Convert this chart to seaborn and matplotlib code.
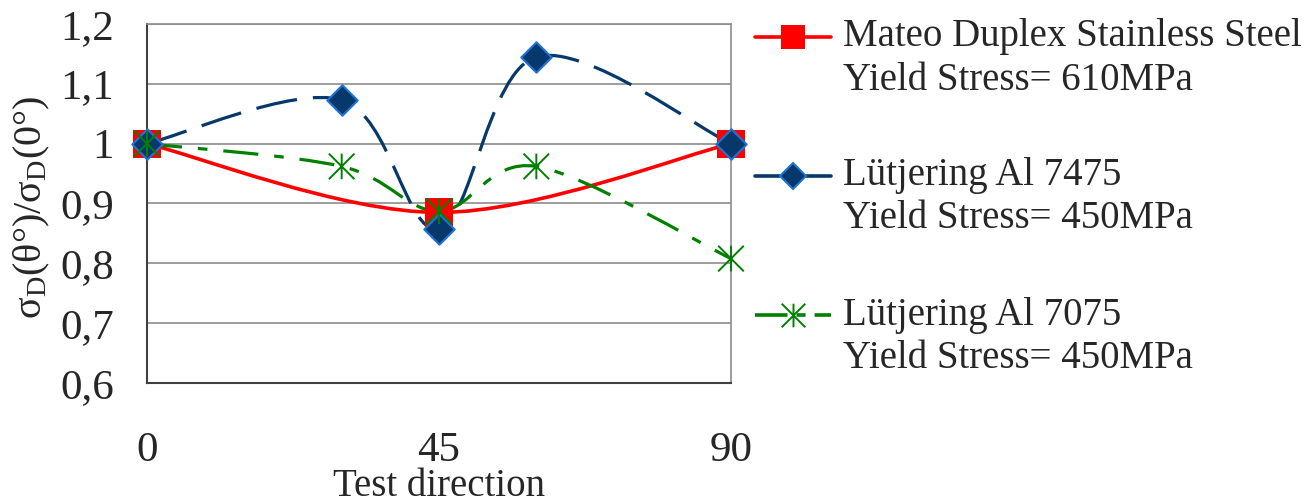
import numpy as np
import matplotlib
matplotlib.use("Agg")
import matplotlib.pyplot as plt
import seaborn as sns
from matplotlib.path import Path
from matplotlib.patches import PathPatch
from matplotlib.lines import Line2D

# data
angles_mateo = [0, 45, 90]
mateo = [1.0, 0.885, 1.0]
angles_al = [0, 30, 45, 60, 90]
al7475 = [1.0, 1.073, 0.857, 1.145, 1.0]
al7075 = [1.0, 0.962, 0.887, 0.962, 0.808]

names = ["Mateo Duplex Stainless Steel", "Lütjering Al 7475", "Lütjering Al 7075"]
yields = ["Yield Stress= 610MPa", "Yield Stress= 450MPa", "Yield Stress= 450MPa"]
x_ticks = [0, 45, 90]
y_ticks = [0.6, 0.7, 0.8, 0.9, 1.0, 1.1, 1.2]
y_ticklabels = ["0,6", "0,7", "0,8", "0,9", "1", "1,1", "1,2"]

sns.set_style("white")
plt.rcParams["font.family"] = ["Liberation Serif", "DejaVu Serif"]
plt.rcParams["mathtext.fontset"] = "custom"
plt.rcParams["mathtext.rm"] = "Liberation Serif"
plt.rcParams["mathtext.it"] = "Liberation Serif:italic"

RED = "#ff0000"
NAVY = "#06386b"
NAVY_EDGE = "#1c74d4"
GREEN = "#008000"

# asterisk marker like excel (vertical bar + X)
star = Path([(0, -1), (0, 1), (-1, -1), (1, 1), (-1, 1), (1, -1)],
            [Path.MOVETO, Path.LINETO, Path.MOVETO, Path.LINETO, Path.MOVETO, Path.LINETO])


def smooth_path(xs, ys):
    # excel style smoothed line (cubic bezier through the points)
    p = np.column_stack([xs, ys]).astype(float)
    n = len(p)
    verts = [p[0]]
    codes = [Path.MOVETO]
    for i in range(n - 1):
        a = p[max(i - 1, 0)]
        b = p[i]
        c = p[i + 1]
        d = p[min(i + 2, n - 1)]
        verts += [b + (c - a) / 6, c - (d - b) / 6, c]
        codes += [Path.CURVE4] * 3
    return Path(verts, codes)


fig = plt.figure(figsize=(13.13, 5.03), dpi=100)
ax = fig.add_axes([147 / 1313, 120 / 503, 584 / 1313, 359 / 503])

# curves
ax.add_patch(PathPatch(smooth_path(angles_mateo, mateo), fc="none", ec=RED, lw=2.6, zorder=3))
ax.add_patch(PathPatch(smooth_path(angles_al, al7475), fc="none", ec=NAVY, lw=2.3,
                       linestyle=(0, (13, 5)), zorder=3))
ax.add_patch(PathPatch(smooth_path(angles_al, al7075), fc="none", ec=GREEN, lw=2.3,
                       linestyle=(0, (11, 5, 3, 5)), zorder=3))

# markers
sns.scatterplot(x=angles_mateo, y=mateo, marker="s", s=400, color=RED, edgecolor=RED,
                linewidth=0, ax=ax, zorder=4, clip_on=False)
sns.scatterplot(x=angles_al, y=al7475, marker="D", s=240, color=NAVY, edgecolor=NAVY_EDGE,
                linewidth=1.5, ax=ax, zorder=5, clip_on=False)
sns.scatterplot(x=angles_al, y=al7075, marker=star, s=340, facecolor="none", edgecolor=GREEN,
                linewidth=1.4, ax=ax, zorder=6, clip_on=False)

ax.set_xlim(0, 90)
ax.set_ylim(0.6, 1.2)
ax.set_xticks(x_ticks)
ax.set_xticklabels([str(v) for v in x_ticks])
ax.set_yticks(y_ticks)
ax.set_yticklabels(y_ticklabels)
ax.grid(axis="y", color="#8c8c8c", lw=1.2)
ax.set_axisbelow(True)

for s in ["top", "right"]:
    ax.spines[s].set_color("#8c8c8c")
    ax.spines[s].set_linewidth(1.2)
for s in ["left", "bottom"]:
    ax.spines[s].set_color("#404040")
    ax.spines[s].set_linewidth(1.5)

ax.tick_params(axis="x", direction="inout", length=20, width=1.2, color="#202020",
               labelsize=31, pad=25)
ax.tick_params(axis="y", length=0, labelsize=31, pad=24)

ax.set_xlabel("Test direction", fontsize=28)
ax.xaxis.set_label_coords(0.5, -0.236)
ax.set_ylabel("σ$_\\mathrm{D}$(θ°)/σ$_\\mathrm{D}$(0°)", fontsize=29)
ax.yaxis.set_label_coords(-0.162, 0.49)

# legend drawn by hand so the handle sits on the first text line
handles = [
    dict(color=RED, ls="-", marker="s", ms=17, mfc=RED, mec=RED, mew=0, lw=2.6),
    dict(color=NAVY, ls="-", marker="D", ms=13, mfc=NAVY, mec=NAVY_EDGE, mew=1.5, lw=2.6),
    dict(color=GREEN, ls=(0, (9, 2.5, 2.5, 2.5)), marker=star, ms=17, mfc="none",
         mec=GREEN, mew=1.4, lw=2.6),
]
rows = [37, 176, 315]
W, H = 1313, 503
for name, ys, kw, y in zip(names, yields, handles, rows):
    fig.add_artist(Line2D([755 / W, 793 / W, 831 / W], [1 - y / H] * 3,
                          transform=fig.transFigure, markevery=[1], **kw))
    fig.text(843 / W, 1 - y / H, name, fontsize=28, va="center", ha="left")
    fig.text(843 / W, 1 - (y + 43) / H, ys, fontsize=28, va="center", ha="left")

fig.savefig("out.png", dpi=100)
